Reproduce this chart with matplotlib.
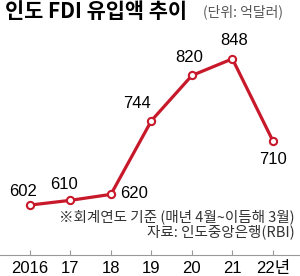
import matplotlib
matplotlib.use("Agg")
import matplotlib.pyplot as plt

# 인도 FDI 유입액 (단위: 억달러), 회계연도 기준
years = ["2016", "17", "18", "19", "20", "21", "22년"]
fdi = [602, 610, 620, 744, 820, 848, 710]

# 값 라벨 위치 (픽셀 오프셋)
label_offsets = [(-7, 14), (-6, 16), (23, 1), (-14, 17), (-3, 18), (2, 18), (0, -19)]

RED = "#c8192b"
NUM_FONT = ["Liberation Sans", "Noto Sans CJK KR"]
KR_FONT = ["Noto Sans CJK KR", "DejaVu Sans"]

fig = plt.figure(figsize=(3.0, 2.76), dpi=100)
ax = fig.add_axes([0, 21 / 276, 1, 255 / 276])
ax.set_xlim(-0.74, 6.67)
ax.set_ylim(518, 947)

x = list(range(len(years)))
ax.plot(x, fdi, color=RED, lw=2.3, marker="o", ms=5.2,
        markerfacecolor="white", markeredgecolor=RED, markeredgewidth=1.5,
        solid_capstyle="round", zorder=3)

for xi, v, (dx, dy) in zip(x, fdi, label_offsets):
    ax.annotate(str(v), (xi, v), xytext=(dx, dy), textcoords="offset pixels",
                ha="center", va="center", fontsize=12, family=NUM_FONT)

for s in ["top", "left", "right"]:
    ax.spines[s].set_visible(False)
ax.spines["bottom"].set_color("#999999")
ax.spines["bottom"].set_linewidth(0.8)
ax.set_yticks([])
ax.set_xticks(x)
ax.set_xticklabels(years, family=NUM_FONT, fontsize=12)
ax.tick_params(axis="x", direction="in", length=3.6, width=0.8,
               color="#999999", pad=4)

fig.text(5 / 300, 1 - 12 / 276, "인도 FDI 유입액 추이", family=KR_FONT,
         fontsize=15, fontweight="bold", ha="left", va="center")
fig.text(203 / 300, 1 - 12 / 276, "(단위: 억달러)", family=KR_FONT,
         fontsize=10, color="#555555", ha="left", va="center")

fig.text(295 / 300, 59 / 276, "※회계연도 기준 (매년 4월~이듬해 3월)", family=KR_FONT,
         fontsize=10.5, color="#333333", ha="right", va="center")
fig.text(295 / 300, 44 / 276, "자료: 인도중앙은행(RBI)", family=KR_FONT,
         fontsize=10.5, color="#333333", ha="right", va="center")

fig.savefig("out.png", dpi=100)
